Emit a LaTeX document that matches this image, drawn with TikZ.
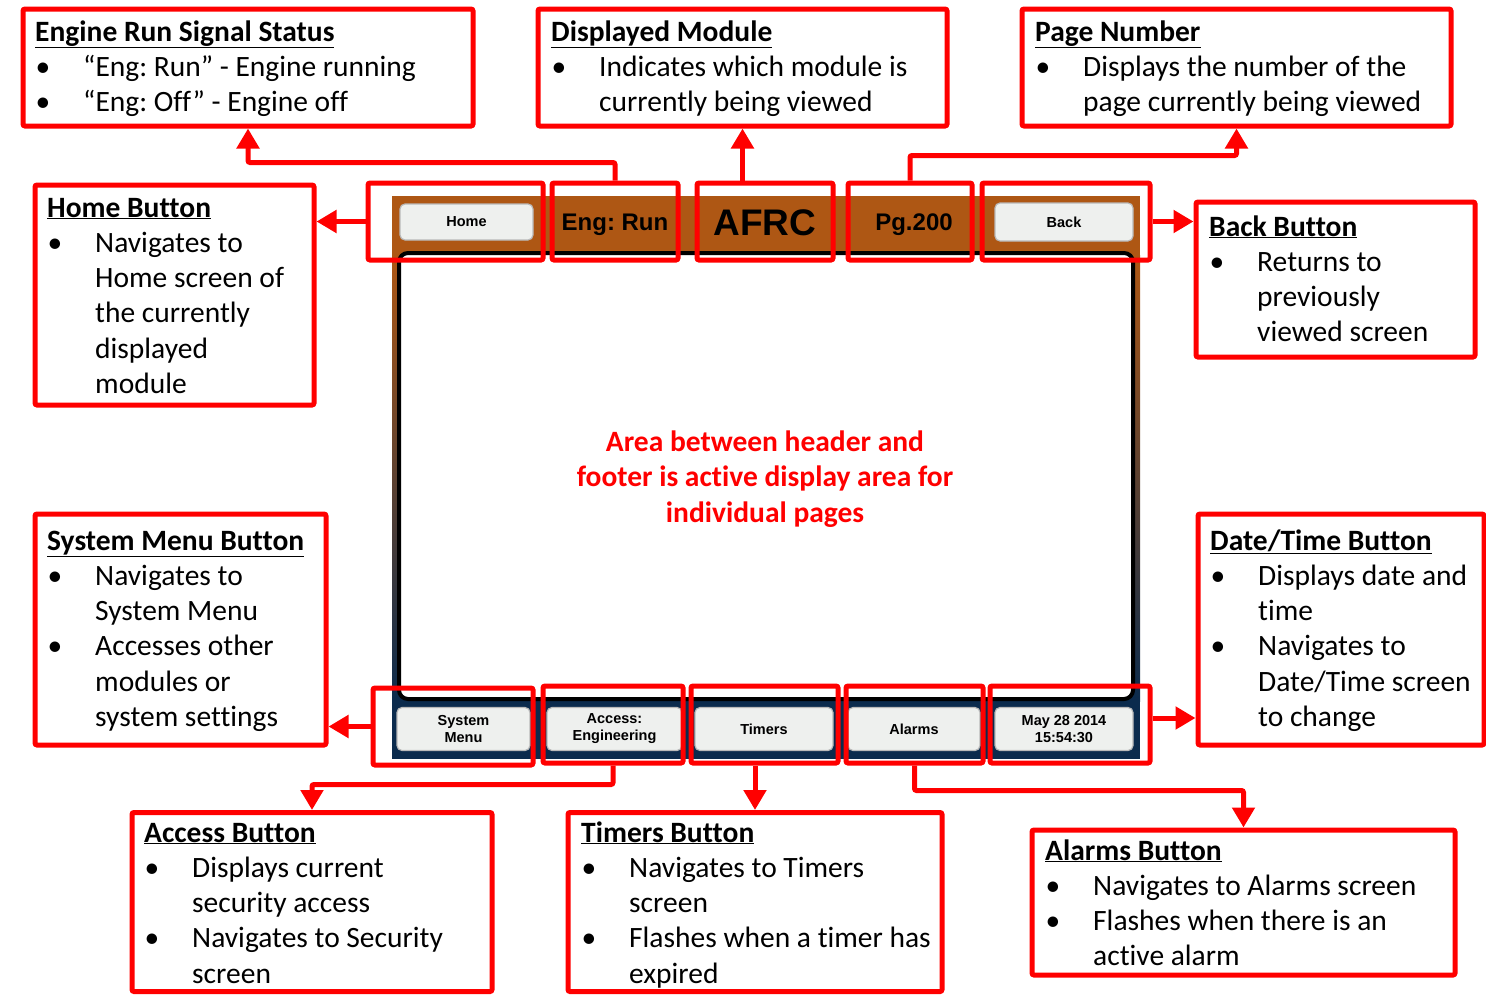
\documentclass[tikz,border=0pt]{standalone}
\usepackage{fontspec}
\setmainfont{Carlito}[Ligatures=NoCommon]
\newfontfamily\scr{Liberation Sans}
\usetikzlibrary{arrows.meta,calc}
\frenchspacing
\definecolor{rd}{HTML}{FF0000}
\definecolor{brn}{HTML}{AE5714}
\definecolor{nvy}{HTML}{0B2B4D}
\definecolor{btnf}{HTML}{EEF0EE}
\newcommand{\bl}[1]{\makebox[48pt][l]{\hspace{0.5pt}\textbullet}#1}
\newcommand{\ct}[1]{\hspace*{48pt}#1}
\newcommand{\ttl}[1]{\underline{\textbf{#1}}}
\newcommand{\lines}[1]{\begin{tabular}[t]{@{}l@{}}#1\end{tabular}}
\tikzset{
  redbox/.style={draw=rd, line width=5pt, rounded corners=2pt, inner sep=0pt},
  conn/.style={draw=rd, line width=5pt, rounded corners=2pt, -{Triangle[width=22pt,length=20pt]}},
  txt/.style={anchor=base west, inner sep=0pt, font=\fontsize{29.5}{35.3}\selectfont},
  btn/.style={fill=btnf, draw=gray!55, line width=1.2pt, rounded corners=5pt, align=center,
    font=\scr\bfseries\fontsize{14.5}{17}\selectfont, inner sep=0pt},
  hdr/.style={font=\scr\bfseries\fontsize{24}{26}\selectfont, inner sep=0pt}
}
\begin{document}
\begin{tikzpicture}[x=1pt,y=-1pt]
\useasboundingbox (0,0) rectangle (1486,994);
% screen
\fill[brn] (392,196) rectangle (1140,256);
\shade[top color=brn, bottom color=nvy] (392,255) rectangle (1140,701);
\fill[nvy] (392,700) rectangle (1140,759);
\draw[line width=4pt, rounded corners=9pt, fill=white] (399,253) rectangle (1133,699);
% header content
\node[btn, minimum width=133pt, minimum height=36pt] (bhome) at (466.5,222) {Home};
\node[hdr] (teng) at (615,224.5) {Eng: Run};
\node[font=\scr\bfseries\fontsize{37}{40}\selectfont, inner sep=0pt] (tafrc) at (765,223) {AFRC};
\node[hdr] (tpg) at (914,224.5) {Pg.200};
\node[btn, minimum width=138pt, minimum height=38pt] (bback) at (1064,222) {Back};
% footer buttons
\node[btn, minimum width=133pt, minimum height=43pt] (bsys) at (463.5,729) {System\\Menu};
\node[btn, minimum width=135pt, minimum height=43pt] (bacc) at (614.5,729) {Access:\\Engineering};
\node[btn, minimum width=138pt, minimum height=43pt] (btim) at (764,729) {Timers};
\node[btn, minimum width=132pt, minimum height=43pt] (balm) at (914,729) {Alarms};
\node[btn, minimum width=138pt, minimum height=43pt] (bdate) at (1064,729) {May 28 2014\\15:54:30};
% center text
\node[font=\bfseries\fontsize{29.5}{35.3}\selectfont, text=rd, align=center, inner sep=0pt] (ctext) at (765,479)
  {Area between header and\\footer is active display area for\\individual pages};
% header red boxes
\node[redbox, minimum width=175pt, minimum height=77pt] (rhome) at (455.5,221.5) {};
\node[redbox, minimum width=126pt, minimum height=77pt] (reng) at (615,221.5) {};
\node[redbox, minimum width=136pt, minimum height=77pt] (rafrc) at (765,221.5) {};
\node[redbox, minimum width=124pt, minimum height=77pt] (rpg) at (910,221.5) {};
\node[redbox, minimum width=168pt, minimum height=77pt] (rback) at (1066,221.5) {};
% footer red boxes
\node[redbox, minimum width=160pt, minimum height=77pt] (rsys) at (453,726.5) {};
\node[redbox, minimum width=140pt, minimum height=77pt] (racc) at (613,724.5) {};
\node[redbox, minimum width=147pt, minimum height=77pt] (rtim) at (764.5,724.5) {};
\node[redbox, minimum width=137pt, minimum height=77pt] (ralm) at (914.5,724.5) {};
\node[redbox, minimum width=160pt, minimum height=77pt] (rdate) at (1070,724.5) {};
% callout boxes
\node[redbox, minimum width=450pt, minimum height=117pt] (ceng) at (248,67.5) {};
\node[redbox, minimum width=409pt, minimum height=117pt] (cdm) at (742.5,67.5) {};
\node[redbox, minimum width=429pt, minimum height=117pt] (cpn) at (1236.5,67.5) {};
\node[redbox, minimum width=279pt, minimum height=220pt] (chome) at (174.5,295) {};
\node[redbox, minimum width=279pt, minimum height=155pt] (cback) at (1335.5,279.5) {};
\node[redbox, minimum width=291pt, minimum height=231pt] (csys) at (180.5,629.5) {};
\node[redbox, minimum width=286pt, minimum height=231pt] (cdate) at (1341,629.5) {};
\node[redbox, minimum width=360pt, minimum height=179pt] (cacc) at (312,902) {};
\node[redbox, minimum width=374pt, minimum height=179pt] (ctim) at (755,902) {};
\node[redbox, minimum width=423pt, minimum height=145pt] (calm) at (1243.5,902.5) {};
% callout texts
\node[txt] (xeng) at (35,41) {\lines{\ttl{Engine Run Signal Status}\\\bl{“Eng: Run” - Engine running}\\\bl{“Eng: Off” - Engine off}}};
\node[txt] (xdm) at (551,41) {\lines{\ttl{Displayed Module}\\\bl{Indicates which module is}\\\ct{currently being viewed}}};
\node[txt] (xpn) at (1035,41) {\lines{\ttl{Page Number}\\\bl{Displays the number of the}\\\ct{page currently being viewed}}};
\node[txt] (xhome) at (47,217) {\lines{\ttl{Home Button}\\\bl{Navigates to}\\\ct{Home screen of}\\\ct{the currently}\\\ct{displayed}\\\ct{module}}};
\node[txt] (xback) at (1209,236) {\lines{\ttl{Back Button}\\\bl{Returns to}\\\ct{previously}\\\ct{viewed screen}}};
\node[txt] (xsys) at (47,550) {\lines{\ttl{System Menu Button}\\\bl{Navigates to}\\\ct{System Menu}\\\bl{Accesses other}\\\ct{modules or}\\\ct{system settings}}};
\node[txt] (xdate) at (1210,550) {\lines{\ttl{Date/Time Button}\\\bl{Displays date and}\\\ct{time}\\\bl{Navigates to}\\\ct{Date/Time screen}\\\ct{to change}}};
\node[txt] (xacc) at (144,842) {\lines{\ttl{Access Button}\\\bl{Displays current}\\\ct{security access}\\\bl{Navigates to Security}\\\ct{screen}}};
\node[txt] (xtim) at (581,842) {\lines{\ttl{Timers Button}\\\bl{Navigates to Timers}\\\ct{screen}\\\bl{Flashes when a timer has}\\\ct{expired}}};
\node[txt] (xalm) at (1045,860) {\lines{\ttl{Alarms Button}\\\bl{Navigates to Alarms screen}\\\bl{Flashes when there is an}\\\ct{active alarm}}};
% connectors
\draw[conn] (reng.north) -- ++(0,-18) -| (ceng.south);
\draw[conn] (rafrc.north -| cdm.south) -- (cdm.south);
\draw[conn] (rpg.north) -- ++(0,-25) -| (cpn.south);
\draw[conn] (rhome.west) -- (rhome.west -| chome.east);
\draw[conn] (rback.east) -- (rback.east -| cback.west);
\draw[conn] (rsys.west) -- (rsys.west -| csys.east);
\coordinate (dstart) at ($(rdate.east)+(0,-6.5)$);
\draw[conn] (dstart) -- (dstart -| cdate.west);
\draw[conn] (racc.south) -- ++(0,19) -| (cacc.north);
\draw[conn] (rtim.south -| ctim.north) -- (ctim.north);
\draw[conn] (ralm.south) -- ++(0,25) -| (calm.north);
\end{tikzpicture}
\end{document}
